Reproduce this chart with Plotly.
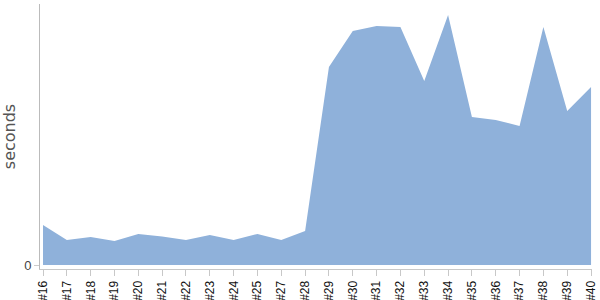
import plotly.graph_objects as go

builds = ["#16", "#17", "#18", "#19", "#20", "#21", "#22", "#23", "#24", "#25",
          "#27", "#28", "#29", "#30", "#31", "#32", "#33", "#34", "#35", "#36",
          "#37", "#38", "#39", "#40"]
seconds = [40, 25, 28, 24, 31, 28.5, 25, 30, 25, 31,
           25, 34, 198, 234, 239, 238, 184, 250, 148, 145,
           139, 238, 154, 178]

fig = go.Figure()
fig.add_trace(go.Scatter(
    x=list(range(len(builds))), y=seconds, mode="lines",
    line=dict(width=0, color="#8fb1da"),
    fill="tozeroy", fillcolor="#8fb1da",
    hoverinfo="skip", showlegend=False,
))

fig.update_layout(
    width=600, height=300,
    margin=dict(l=40, r=8, t=4, b=31),
    paper_bgcolor="white", plot_bgcolor="white",
    font=dict(family="Liberation Sans", size=12, color="#222"),
    xaxis=dict(
        automargin=False,
        range=[-0.126, 23.04],
        tickmode="array", tickvals=list(range(len(builds))), ticktext=builds,
        tickangle=-90, showgrid=False, zeroline=False,
        showline=True, linecolor="#c8c8c8", linewidth=1,
        ticks="outside", ticklen=6, tickcolor="#c8c8c8",
        tickfont=dict(family="Liberation Sans", size=12, color="#111"),
    ),
    yaxis=dict(
        automargin=False,
        range=[-4, 261],
        tickmode="array", tickvals=[0], ticktext=["0"],
        showgrid=False, zeroline=False,
        showline=True, linecolor="#bbbbbb", linewidth=1,
        ticks="outside", ticklen=5, tickcolor="#cccccc",
        tickfont=dict(family="Liberation Sans", size=13, color="#444"),
        title=dict(text="seconds", font=dict(family="DejaVu Sans", size=16, color="#555"), standoff=5),
    ),
)

fig.write_html("out.html")
